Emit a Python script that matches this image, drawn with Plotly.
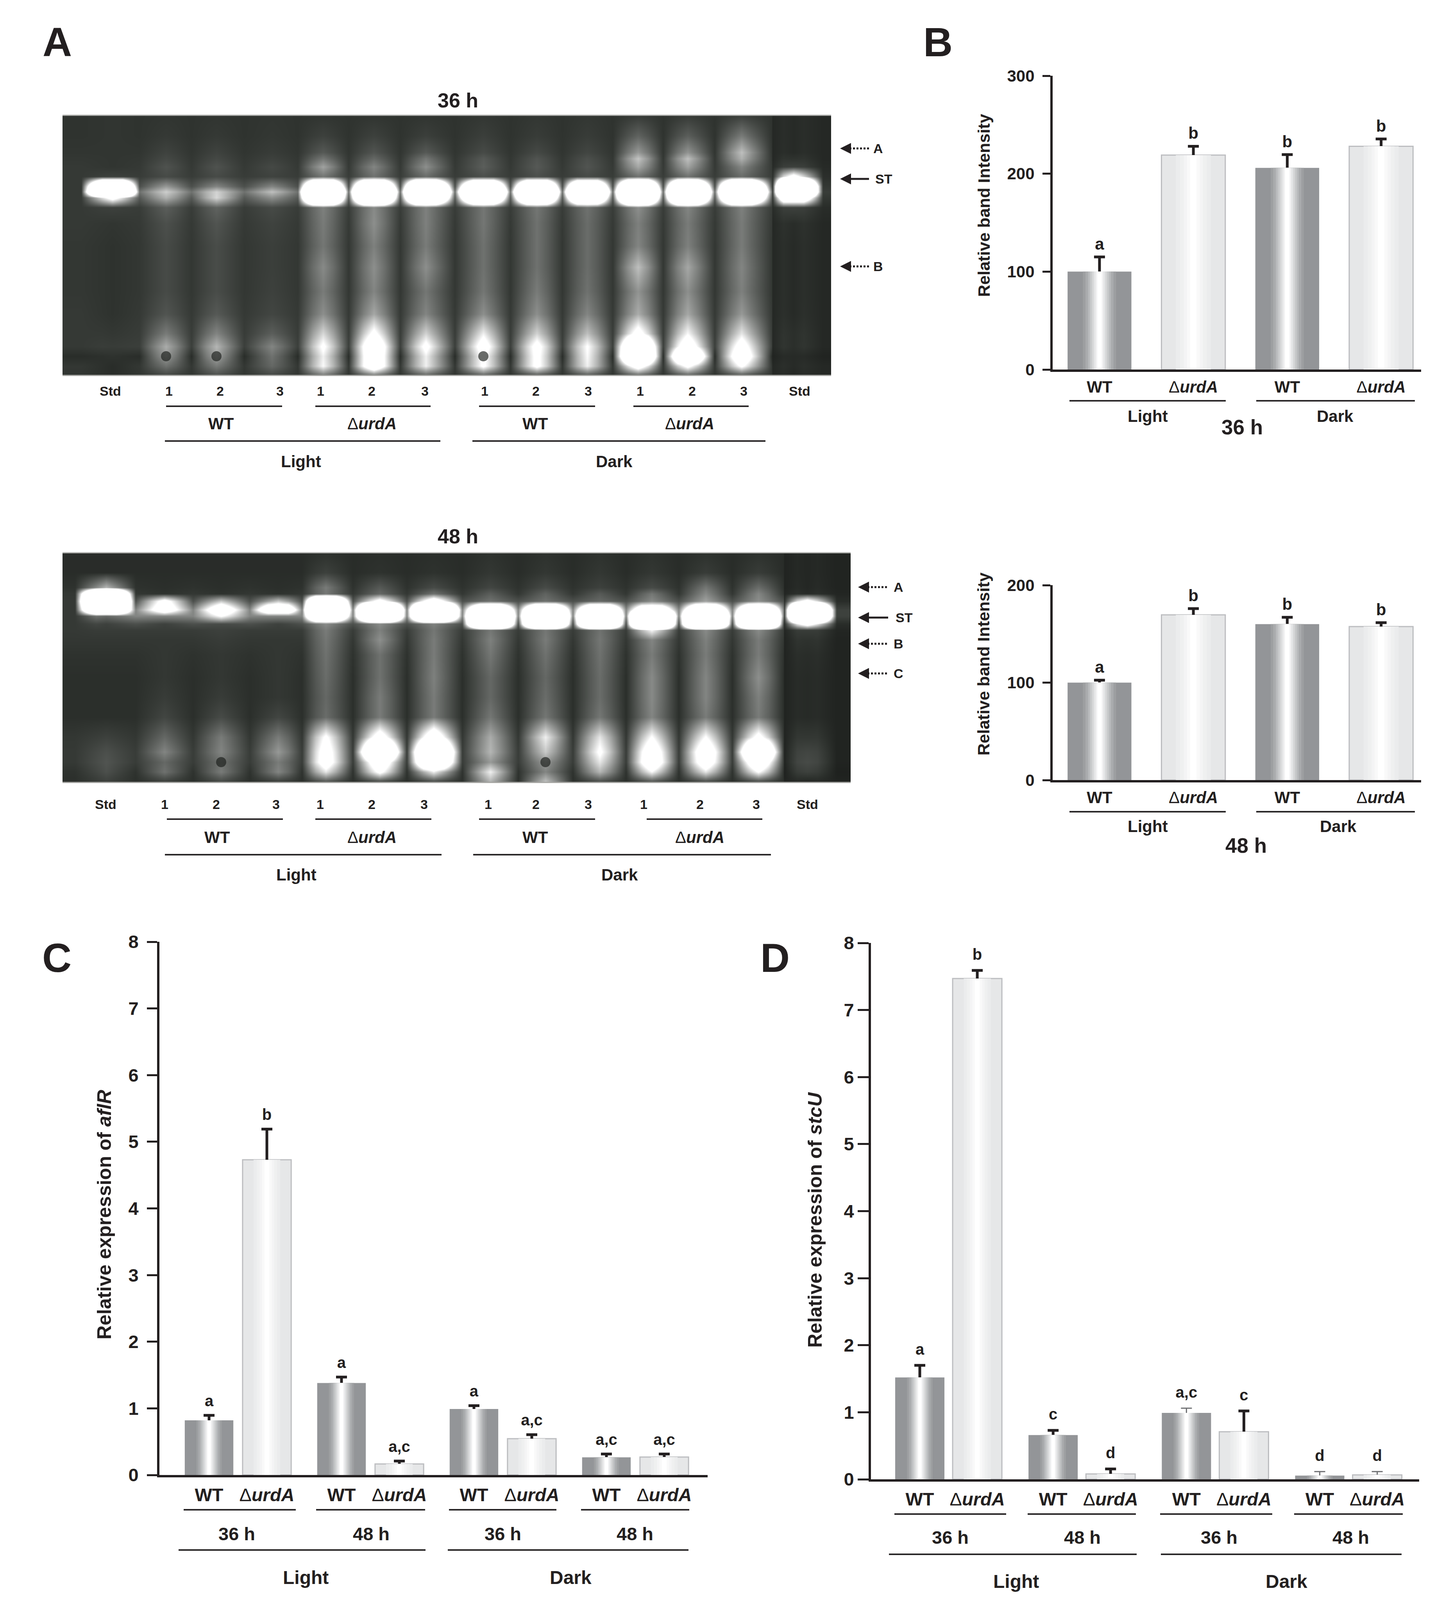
import numpy as np
import plotly.graph_objects as go

W = 3693
H = 4102
FONT = "Liberation Sans"
INK = "#231f20"

# ---- TLC plates: one brightness profile per lane, read top to bottom ----
gel36_rows = [298, 348, 390, 406, 427, 452, 477, 491, 506, 531, 572, 630, 684, 746, 804, 854, 887, 912, 937, 958]
gel36_lanes = [288, 425, 554, 696, 827, 957, 1090, 1237, 1374, 1503, 1633, 1760, 1898, 2031]
gel36_gap = [46, 46, 48, 50, 52, 55, 75, 110, 85, 55, 52, 50, 50, 50, 52, 55, 58, 40, 50, 48]
gel36_strip = [36, 36, 36, 36, 38, 42, 50, 55, 50, 40, 36, 36, 36, 36, 36, 36, 36, 32, 36, 36]
gel36_std_l = [48, 48, 48, 48, 48, 60, 700, 900, 300, 60, 48, 45, 45, 45, 45, 50, 55, 45, 40, 40]
gel36_wt_l1 = [48, 52, 62, 68, 78, 70, 150, 205, 175, 90, 75, 70, 70, 70, 80, 120, 170, 150, 110, 70]
gel36_wt_l2 = [48, 52, 62, 68, 78, 70, 130, 210, 215, 95, 80, 72, 72, 72, 85, 130, 180, 160, 120, 80]
gel36_wt_l3 = [48, 50, 55, 60, 68, 62, 130, 190, 140, 70, 62, 58, 58, 60, 65, 90, 130, 110, 100, 70]
gel36_ko_l1 = [48, 60, 85, 115, 160, 115, 600, 900, 700, 125, 120, 115, 135, 120, 140, 215, 270, 240, 250, 130]
gel36_ko_l2 = [48, 60, 80, 100, 130, 110, 600, 900, 700, 135, 140, 125, 140, 130, 165, 280, 380, 370, 370, 140]
gel36_ko_l3 = [48, 58, 85, 115, 140, 105, 650, 900, 650, 125, 125, 120, 140, 115, 130, 210, 280, 240, 240, 110]
gel36_wt_d1 = [50, 58, 70, 85, 90, 75, 600, 900, 600, 115, 115, 110, 110, 115, 140, 240, 310, 270, 270, 110]
gel36_wt_d2 = [50, 55, 68, 80, 85, 75, 600, 900, 600, 115, 110, 110, 110, 120, 140, 210, 290, 280, 280, 100]
gel36_wt_d3 = [50, 55, 65, 75, 80, 70, 560, 850, 560, 110, 105, 105, 105, 110, 130, 190, 260, 250, 240, 100]
gel36_ko_d1 = [55, 95, 150, 195, 165, 110, 650, 900, 700, 140, 125, 130, 190, 145, 170, 300, 420, 480, 320, 120]
gel36_ko_d2 = [55, 90, 145, 190, 160, 110, 650, 900, 700, 130, 120, 125, 165, 140, 165, 250, 340, 400, 280, 110]
gel36_ko_d3 = [60, 120, 190, 175, 130, 105, 700, 900, 650, 125, 120, 120, 130, 125, 150, 230, 310, 370, 270, 100]
gel36_std_r = [38, 38, 38, 45, 60, 300, 850, 850, 400, 60, 40, 38, 38, 38, 38, 42, 42, 38, 38, 35]
gel36_spots = [1, 2, 7]

gel48_rows = [1418, 1466, 1504, 1520, 1539, 1561, 1577, 1597, 1613, 1638, 1676, 1734, 1785, 1836, 1887, 1925, 1951, 1976, 2000]
gel48_lanes = [272, 421, 566, 712, 834, 972, 1110, 1255, 1396, 1535, 1668, 1806, 1941, 2066]
gel48_gap = [40, 40, 45, 50, 75, 130, 130, 75, 55, 50, 45, 42, 42, 42, 50, 55, 55, 45, 42]
gel48_strip = [32, 32, 32, 34, 40, 60, 60, 40, 34, 32, 32, 32, 32, 32, 32, 32, 32, 30, 32]
gel48_std_l = [40, 40, 180, 700, 900, 650, 100, 60, 55, 50, 45, 42, 42, 42, 60, 75, 80, 75, 60]
gel48_wt_l1 = [40, 40, 42, 45, 300, 350, 130, 60, 55, 50, 50, 50, 55, 65, 100, 130, 100, 110, 60]
gel48_wt_l2 = [40, 40, 42, 45, 200, 380, 260, 70, 60, 55, 50, 50, 55, 70, 120, 130, 110, 120, 70]
gel48_wt_l3 = [40, 40, 42, 45, 200, 400, 130, 60, 55, 50, 50, 50, 50, 65, 120, 150, 120, 130, 60]
gel48_ko_l1 = [45, 60, 120, 115, 650, 900, 600, 135, 120, 115, 110, 105, 100, 105, 270, 310, 320, 230, 85]
gel48_ko_l2 = [42, 45, 85, 100, 300, 900, 800, 135, 125, 140, 110, 110, 120, 120, 320, 460, 370, 280, 75]
gel48_ko_l3 = [42, 45, 70, 110, 350, 900, 800, 125, 115, 120, 120, 125, 120, 120, 360, 500, 430, 240, 75]
gel48_wt_d1 = [45, 50, 65, 90, 110, 600, 900, 800, 115, 125, 115, 100, 100, 115, 170, 180, 150, 240, 180]
gel48_wt_d2 = [45, 50, 70, 95, 110, 600, 900, 800, 115, 120, 110, 100, 105, 115, 240, 200, 150, 130, 190]
gel48_wt_d3 = [45, 50, 60, 85, 100, 550, 900, 800, 110, 115, 110, 105, 105, 115, 230, 270, 230, 180, 75]
gel48_ko_d1 = [45, 50, 70, 115, 135, 400, 900, 900, 250, 130, 120, 135, 135, 130, 260, 350, 370, 250, 85]
gel48_ko_d2 = [45, 55, 115, 135, 160, 500, 900, 900, 135, 125, 120, 130, 130, 120, 260, 360, 340, 230, 75]
gel48_ko_d3 = [45, 55, 105, 130, 140, 550, 900, 850, 135, 120, 120, 140, 125, 120, 290, 420, 390, 260, 75]
gel48_std_r = [35, 35, 35, 38, 300, 900, 900, 320, 55, 45, 40, 38, 38, 38, 50, 65, 70, 60, 35]
gel48_spots = [2, 8]

# ---- bar values ----
b_labels = ["WT", "ΔurdA", "WT", "ΔurdA"]
b36_values = [100, 219, 206, 228]
b36_errors = [15, 9, 13.5, 7.5]
b36_letters = ["a", "b", "b", "b"]

b48_values = [100, 169.5, 160, 157.5]
b48_errors = [2.5, 6.5, 7, 4]
b48_letters = ["a", "b", "b", "b"]

c_values = [0.82, 4.73, 1.38, 0.165, 0.99, 0.545, 0.265, 0.27]
c_errors = [0.075, 0.46, 0.09, 0.045, 0.05, 0.06, 0.05, 0.045]
c_letters = ["a", "b", "a", "a,c", "a", "a,c", "a,c", "a,c"]

d_values = [1.52, 7.47, 0.66, 0.08, 0.99, 0.71, 0.055, 0.065]
d_errors = [0.18, 0.12, 0.07, 0.075, 0.07, 0.31, 0.06, 0.05]
d_letters = ["a", "b", "c", "d", "a,c", "c", "d", "d"]
d_thin_errors = [4, 6, 7]

# bar shading, outermost strip first
wt_steps = [(1, "#939598"), (.52, "#9d9fa1"), (.44, "#a9abad"), (.36, "#b8babc"), (.3, "#c6c8c9"),
            (.24, "#d5d6d7"), (.18, "#e4e5e6"), (.12, "#f2f2f3"), (.07, "#ffffff")]
ko_steps = [(1, "#e6e7e8"), (.55, "#ebeced"), (.42, "#eff0f0"), (.3, "#f4f4f5"), (.2, "#f9f9f9"), (.1, "#ffffff")]


def px(x):
    return x / W


def py(y):
    return 1 - y / H


fig = go.Figure()
annotations = []
shapes = []


def label(x, y, s, size=44, bold=True, angle=0):
    annotations.append(dict(text=s, x=px(x), y=py(y), xref="paper", yref="paper", showarrow=False,
                            xanchor="center", yanchor="middle", textangle=angle,
                            font=dict(family=FONT, size=size, color=INK, weight=700 if bold else 400)))


def rule(x0, x1, y, width=4, dash="solid", color="#2b2829"):
    shapes.append(dict(type="line", xref="paper", yref="paper", x0=px(x0), x1=px(x1), y0=py(y), y1=py(y),
                       line=dict(color=color, width=width, dash=dash)))


def pointer(x0, x1, y, s, text_x, solid=False):
    annotations.append(dict(x=px(x0), y=py(y), xref="paper", yref="paper", ax=26, ay=0, text="",
                            showarrow=True, arrowhead=2, arrowsize=1.4, arrowwidth=4, arrowcolor=INK))
    rule(x0 + 24, x1, y, width=5, dash="solid" if solid else "5px,4px", color=INK)
    label(text_x, y, s, size=34)


def axes(n, x0, x1, y_top, y_bottom, x_axis, y_axis):
    suffix = "" if n == 1 else str(n)
    xa = dict(domain=[px(x0), px(x1)], anchor="y" + suffix, automargin=False, **x_axis)
    ya = dict(domain=[py(y_bottom), py(y_top)], anchor="x" + suffix, automargin=False, **y_axis)
    fig.update_layout({"xaxis" + suffix: xa, "yaxis" + suffix: ya})
    return "x" + suffix, "y" + suffix


def gel(n, rows, lanes, profiles, gap, strip, x0, x1, y0, y1, seam, spots, spot_row):
    gap_arr = np.array(gap, dtype=float)
    edge = np.minimum(gap_arr, 52)
    xs = [x0, lanes[0] - 80]
    cols = [edge, edge]
    for i, lane in enumerate(lanes):
        p = np.array(profiles[i], dtype=float)
        # saturated bands stay flat across the lane, the smears taper to a peak on the lane centre
        flank = np.where(p >= 400, p, gap_arr + .65 * (p - gap_arr))
        xs += [lane - 26, lane, lane + 26]
        cols += [flank, p, flank]
        if i < len(lanes) - 2:
            xs.append((lane + lanes[i + 1]) / 2)
            cols.append(gap_arr)
        elif i == len(lanes) - 2:
            xs += [seam, seam + 2]
            cols += [gap_arr, np.array(strip, dtype=float)]
    xs += [lanes[-1] + 75, x1]
    cols += [np.array(strip, dtype=float), np.array(strip, dtype=float)]
    hide = dict(visible=False, showgrid=False, zeroline=False)
    xa, ya = axes(n, x0, x1, y0, y1, dict(range=[x0, x1], **hide), dict(range=[y1, y0], **hide))
    fig.add_trace(go.Heatmap(x=xs, y=rows, z=np.array(cols).T.tolist(), xaxis=xa, yaxis=ya, zmin=0, zmax=255,
                             zsmooth="best", showscale=False, hoverinfo="skip",
                             colorscale=[[0, "#000000"], [.18, "#2f332f"], [1, "#ffffff"]]))
    fig.add_trace(go.Scatter(x=[lanes[i] for i in spots], y=[rows[spot_row]] * len(spots), mode="markers",
                             xaxis=xa, yaxis=ya, hoverinfo="skip",
                             marker=dict(size=26, color="rgba(25,27,25,.65)", line=dict(width=0))))
    rule(x0, x1, y0 - 1, width=3, color="#b5b6b3")
    rule(x0, x1, y1 + 1, width=3, color="#a3a3a0")


def bars(n, box, xs, width, values, errors, letters, x_range, y_max, y_ticks, tick_labels, letter_size,
         x_font, y_font, x_standoff, y_standoff, tick_len, letter_gap, thin=()):
    x_axis = dict(range=x_range, showline=True, linewidth=6, linecolor=INK, showgrid=False, zeroline=False,
                  ticks="", tickmode="array", tickvals=xs, ticktext=tick_labels, ticklabelstandoff=x_standoff,
                  tickfont=dict(family=FONT, size=x_font, color=INK, weight=700))
    y_axis = dict(range=[0, y_max], showline=True, linewidth=6, linecolor=INK, showgrid=False, zeroline=False,
                  ticks="outside", ticklen=tick_len, tickwidth=5, tickcolor=INK, tickmode="array", tickvals=y_ticks,
                  ticklabelstandoff=y_standoff, tickfont=dict(family=FONT, size=y_font, color=INK, weight=700))
    xa, ya = axes(n, box[0], box[1], box[2], box[3], x_axis, y_axis)
    # widest strip carries the error bar, the strips above it hide the lower cap inside the bar
    for i, x in enumerate(xs):
        steps = ko_steps if i % 2 else wt_steps
        fig.add_trace(go.Bar(x=[x], y=[values[i]], width=width, xaxis=xa, yaxis=ya, hoverinfo="skip",
                             marker=dict(color=steps[0][1], line=dict(width=3 if i % 2 else 0, color="#bcbdc0")),
                             error_y=dict(type="data", symmetric=False, array=[errors[i]],
                                          arrayminus=[y_max * .012], color="#6d6e71" if i in thin else INK,
                                          width=14, thickness=3 if i in thin else 7)))
    for group, steps in ((0, wt_steps), (1, ko_steps)):
        for frac, color in steps[1:]:
            fig.add_trace(go.Bar(x=xs[group::2], y=values[group::2], width=width * frac, xaxis=xa, yaxis=ya,
                                 marker=dict(color=color, line=dict(width=0)), hoverinfo="skip"))
    fig.add_trace(go.Scatter(x=xs, y=[v + e for v, e in zip(values, errors)], text=letters, mode="markers+text",
                             textposition="top center", xaxis=xa, yaxis=ya, hoverinfo="skip",
                             marker=dict(size=letter_gap, opacity=0),
                             textfont=dict(family=FONT, size=letter_size, color=INK, weight=700)))


# ---- panel A ----
gel(1, gel36_rows, gel36_lanes,
    [gel36_std_l, gel36_wt_l1, gel36_wt_l2, gel36_wt_l3, gel36_ko_l1, gel36_ko_l2, gel36_ko_l3,
     gel36_wt_d1, gel36_wt_d2, gel36_wt_d3, gel36_ko_d1, gel36_ko_d2, gel36_ko_d3, gel36_std_r],
    gel36_gap, gel36_strip, 160, 2127, 296, 960, 1975, gel36_spots, 17)
gel(2, gel48_rows, gel48_lanes,
    [gel48_std_l, gel48_wt_l1, gel48_wt_l2, gel48_wt_l3, gel48_ko_l1, gel48_ko_l2, gel48_ko_l3,
     gel48_wt_d1, gel48_wt_d2, gel48_wt_d3, gel48_ko_d1, gel48_ko_d2, gel48_ko_d3, gel48_std_r],
    gel48_gap, gel48_strip, 160, 2177, 1416, 2002, 2005, gel48_spots, 16)

ko = "<span style='font-weight:400'>Δ</span><i>urdA</i>"
label(146, 107, "A", 104)
label(2400, 108, "B", 104)
label(145, 2452, "C", 104)
label(1983, 2452, "D", 104)

label(1172, 257, "36 h", 52)
label(1172, 1373, "48 h", 52)
for x, s in zip([282, 432, 563, 716, 820, 952, 1087, 1240, 1371, 1505, 1638, 1771, 1904, 2046],
                ["Std", "1", "2", "3", "1", "2", "3", "1", "2", "3", "1", "2", "3", "Std"]):
    label(x, 1001, s, 34)
for x, s in zip([270, 421, 553, 706, 819, 952, 1085, 1249, 1371, 1505, 1647, 1791, 1935, 2066],
                ["Std", "1", "2", "3", "1", "2", "3", "1", "2", "3", "1", "2", "3", "Std"]):
    label(x, 2059, s, 34)
for (a, b) in [(425, 722), (807, 1102), (1226, 1523), (1621, 1916)]:
    rule(a, b, 1040)
for (a, b) in [(422, 1127), (1209, 1959)]:
    rule(a, b, 1129)
for (a, b) in [(427, 724), (807, 1104), (1226, 1523), (1655, 1951)]:
    rule(a, b, 2097)
for (a, b) in [(422, 1130), (1211, 1973)]:
    rule(a, b, 2188)
for x, s in zip([566, 952, 1370, 1765], ["WT", ko, "WT", ko]):
    label(x, 1084, s, 42)
for x, s in zip([556, 952, 1370, 1791], ["WT", ko, "WT", ko]):
    label(x, 2143, s, 42)
label(770, 1181, "Light", 42)
label(1572, 1181, "Dark", 42)
label(758, 2239, "Light", 42)
label(1586, 2239, "Dark", 42)

pointer(2150, 2224, 380, "A", 2247)
pointer(2150, 2224, 458, "ST", 2262, solid=True)
pointer(2150, 2224, 682, "B", 2247)
pointer(2196, 2273, 1503, "A", 2299)
pointer(2196, 2273, 1581, "ST", 2314, solid=True)
pointer(2196, 2273, 1648, "B", 2299)
pointer(2196, 2273, 1724, "C", 2299)

# ---- panel B ----
b_slots = [0, 1, 2, 3]
b_ticks = [ko if s.startswith("Δ") else s for s in b_labels]
bars(3, (2694, 3637, 194, 946), b_slots, .68, b36_values, b36_errors, b36_letters,
     [-.499, 3.426], 300, [0, 100, 200, 300], b_ticks, 42, 42, 42, 3, 12, 20, 12)
bars(4, (2694, 3637, 1498, 1997), b_slots, .68, b48_values, b48_errors, b48_letters,
     [-.499, 3.426], 200, [0, 100, 200], b_ticks, 42, 42, 42, 3, 12, 20, 12)

label(2518, 526, "Relative band Intensity", 43, angle=-90)
label(2517, 1700, "Relative band Intensity", 43, angle=-90)
for (a, b) in [(2737, 3137), (3215, 3621)]:
    rule(a, b, 1026)
    rule(a, b, 2078)
label(2937, 1065, "Light", 42)
label(3417, 1065, "Dark", 42)
label(3179, 1094, "36 h", 53)
label(2937, 2115, "Light", 42)
label(3425, 2115, "Dark", 42)
label(3189, 2164, "48 h", 53)

# ---- panels C and D ----
c_slots = [k * 2.29 + j for k in range(4) for j in range(2)]
d_slots = [k * 2.32 + j for k in range(4) for j in range(2)]
pair_ticks = ["WT", ko] * 4
expr_ticks = list(range(9))

bars(5, (408, 1811, 2411, 3776), c_slots, .84, c_values, c_errors, c_letters,
     [-.858, 8.62], 8, expr_ticks, pair_ticks, 40, 47, 47, 5, 12, 26, 20)
bars(6, (2229, 3632, 2414, 3787), d_slots, .857, d_values, d_errors, d_letters,
     [-.85, 8.69], 8, expr_ticks, pair_ticks, 40, 47, 47, 5, 0, 28, 26, thin=d_thin_errors)

label(267, 3110, "Relative expression of <i>aflR</i>", 50, angle=-90)
label(2086, 3123, "Relative expression of <i>stcU</i>", 50, angle=-90)

for (a, b) in [(470, 757), (809, 1088), (1149, 1424), (1487, 1764)]:
    rule(a, b, 3865)
for (a, b) in [(457, 1089), (1146, 1762)]:
    rule(a, b, 3968)
for x, s in zip([606, 950, 1287, 1625], ["36 h", "48 h", "36 h", "48 h"]):
    label(x, 3926, s, 47)
label(782, 4038, "Light", 48)
label(1460, 4038, "Dark", 48)

for (a, b) in [(2289, 2575), (2630, 2907), (2969, 3256), (3312, 3590)]:
    rule(a, b, 3876)
for (a, b) in [(2275, 2909), (2971, 3587)]:
    rule(a, b, 3979)
for x, s in zip([2432, 2770, 3120, 3457], ["36 h", "48 h", "36 h", "48 h"]):
    label(x, 3935, s, 47)
label(2600, 4048, "Light", 48)
label(3292, 4048, "Dark", 48)

fig.update_layout(width=W, height=H, autosize=False, margin=dict(l=0, r=0, t=0, b=0), showlegend=False,
                  barmode="overlay", paper_bgcolor="white", plot_bgcolor="white",
                  font=dict(family=FONT, color=INK), annotations=annotations, shapes=shapes)

fig.write_html("out.html", config={"displayModeBar": False}, post_script="document.body.style.margin='0';")
